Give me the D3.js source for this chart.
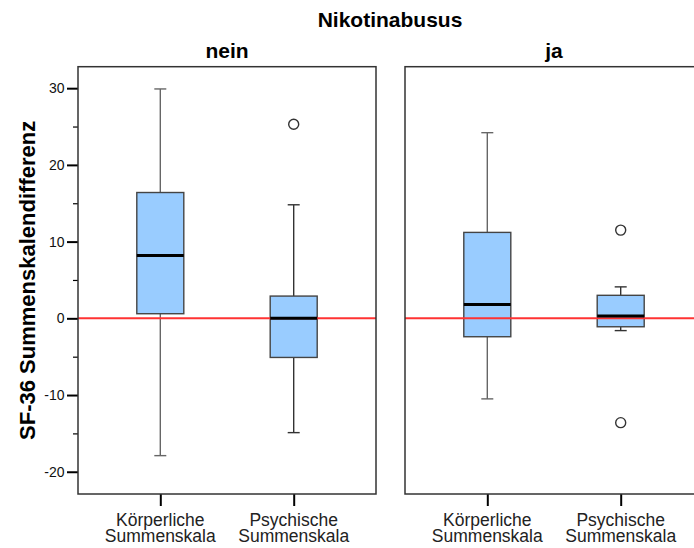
<!DOCTYPE html>
<html><head><meta charset="utf-8">
<script src="https://cdn.jsdelivr.net/npm/d3@7"></script>
<style>body{margin:0;background:#fff}svg{display:block}</style>
</head><body>
<svg id="chart" width="694" height="548"></svg>
<script>
const title = "Nikotinabusus";
const panels = ["nein", "ja"];
const categories = ["Körperliche Summenskala", "Psychische Summenskala"];
// per panel: [Körperliche, Psychische]
const whiskerLow  = [[-17.9, -14.9], [-10.5, -1.6]];
const q1          = [[0.6, -5.1], [-2.4, -1.1]];
const median      = [[8.2, 0.0], [1.8, 0.3]];
const q3          = [[16.4, 2.9], [11.2, 3.0]];
const whiskerHigh = [[29.9, 14.8], [24.2, 4.1]];
const outliers    = [[[], [25.3]], [[], [11.5, -13.6]]];
const majorTicks = [-20, -10, 0, 10, 20, 30];
const minorTicks = [-15, -5, 5, 15, 25];
const yTitle = "SF-36 Summenskalendifferenz";

const svg = d3.select("#chart");
const plotTop = 66.7, plotBottom = 494, panelW = 298;
const panelX = [78, 405];
const y = d3.scaleLinear().domain([-22.9, 32.8]).range([plotBottom, plotTop]);
const x = d3.scalePoint().domain(categories).range([0, panelW]).padding(0.617);
const boxW = 47, capW = 12;
const FF = "Liberation Sans, Arial, sans-serif";

svg.append("text").attr("x", 390).attr("y", 27).attr("text-anchor", "middle")
  .attr("font-family", FF).attr("font-weight", "bold")
  .attr("font-size", 21).text(title);

svg.append("text").attr("transform", `translate(35,${(plotTop+plotBottom)/2}) rotate(-90)`)
  .attr("text-anchor", "middle").attr("font-family", FF)
  .attr("font-weight", "bold").attr("font-size", 22).text(yTitle);

// y axis
svg.append("g").attr("transform", `translate(${panelX[0]},0)`)
  .call(d3.axisLeft(y).tickValues(majorTicks).tickSize(11).tickFormat(d => String(d)))
  .call(g => g.select(".domain").remove())
  .call(g => g.selectAll(".tick line").attr("stroke", "#000").attr("stroke-width", 2))
  .call(g => g.selectAll(".tick text").attr("font-family", FF)
      .attr("font-size", 14).attr("fill", "#111").attr("x", -13.5));
svg.append("g").attr("transform", `translate(${panelX[0]},0)`)
  .call(d3.axisLeft(y).tickValues(minorTicks).tickSize(5).tickFormat(""))
  .call(g => g.select(".domain").remove())
  .call(g => g.selectAll(".tick line").attr("stroke", "#000").attr("stroke-width", 1.2));

panels.forEach((p, pi) => {
  const g = svg.append("g").attr("transform", `translate(${panelX[pi]},0)`);
  g.append("text").attr("x", panelW/2).attr("y", 58).attr("text-anchor", "middle")
    .attr("font-family", FF).attr("font-weight", "bold")
    .attr("font-size", 21).text(p);
  // x axis
  const xa = g.append("g").attr("transform", `translate(0,${plotBottom})`)
    .call(d3.axisBottom(x).tickSize(12).tickFormat(""));
  xa.select(".domain").remove();
  xa.selectAll(".tick line").attr("stroke", "#000").attr("stroke-width", 2);
  categories.forEach(c => {
    c.split(" ").forEach((w, i) => {
      g.append("text").attr("text-anchor", "middle")
        .attr("font-family", FF).attr("font-size", 17.5).attr("fill", "#222")
        .attr("x", x(c)).attr("y", 525.5 + i*16).text(w);
    });
  });
  // boxes
  categories.forEach((c, ci) => {
    const cx = x(c);
    const wc = ci === 0 ? "#666" : "#333";
    g.append("line").attr("x1", cx).attr("x2", cx).attr("y1", y(whiskerHigh[pi][ci])).attr("y2", y(q3[pi][ci]))
      .attr("stroke", wc).attr("stroke-width", 1.4);
    g.append("line").attr("x1", cx).attr("x2", cx).attr("y1", y(q1[pi][ci])).attr("y2", y(whiskerLow[pi][ci]))
      .attr("stroke", wc).attr("stroke-width", 1.4);
    [whiskerHigh[pi][ci], whiskerLow[pi][ci]].forEach(v => {
      g.append("line").attr("x1", cx - capW/2).attr("x2", cx + capW/2).attr("y1", y(v)).attr("y2", y(v))
        .attr("stroke", wc).attr("stroke-width", 1.4);
    });
    g.append("rect").attr("x", cx - boxW/2).attr("width", boxW)
      .attr("y", y(q3[pi][ci])).attr("height", y(q1[pi][ci]) - y(q3[pi][ci]))
      .attr("fill", "#99CCFF").attr("stroke", "#444").attr("stroke-width", 1.4);
    outliers[pi][ci].forEach(v => {
      g.append("circle").attr("cx", cx).attr("cy", y(v)).attr("r", 5)
        .attr("fill", "#fff").attr("stroke", "#333").attr("stroke-width", 1.4);
    });
  });
  // reference line at 0
  g.append("line").attr("x1", 0).attr("x2", panelW).attr("y1", y(0)).attr("y2", y(0))
    .attr("stroke", "#FF3333").attr("stroke-width", 2);
  categories.forEach((c, ci) => {
    const cx = x(c);
    g.append("line").attr("x1", cx - boxW/2).attr("x2", cx + boxW/2)
      .attr("y1", y(median[pi][ci])).attr("y2", y(median[pi][ci]))
      .attr("stroke", "#000").attr("stroke-width", 3);
  });
  // frame
  g.append("rect").attr("x", 0).attr("y", plotTop).attr("width", panelW).attr("height", plotBottom - plotTop)
    .attr("fill", "none").attr("stroke", "#333").attr("stroke-width", 1.5);
});
</script>
</body></html>
